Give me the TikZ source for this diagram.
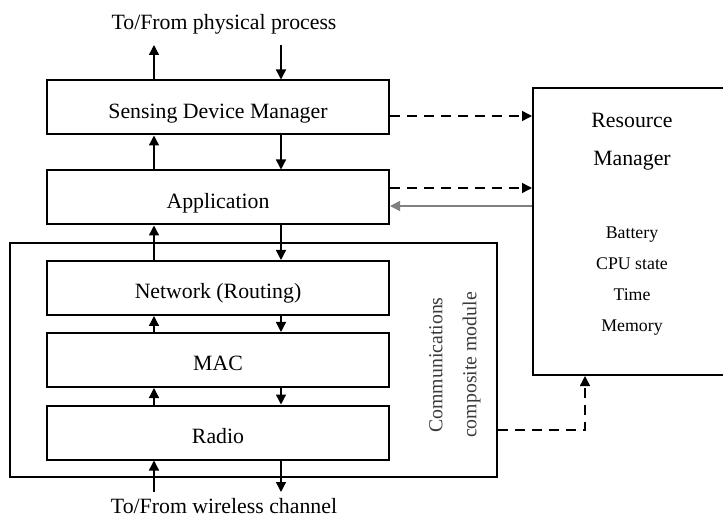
\documentclass[tikz,border=0pt]{standalone}
\usepackage{fontspec}
\setmainfont{Liberation Serif}
\usepackage{xcolor}
\definecolor{LabelGray}{HTML}{3A3A3A}
\definecolor{FeedGray}{HTML}{808080}
\usetikzlibrary{arrows.meta}
\newcommand{\layerw}{171pt}
\newcommand{\layerh}{27pt}
\newcommand{\colup}{-32pt}
\newcommand{\coldown}{31.5pt}
\newcommand{\mainsize}{\fontsize{10.9}{13}\selectfont}
\newcommand{\smallsize}{\fontsize{8.9}{11}\selectfont}

\begin{document}
\begin{tikzpicture}[x=0.5pt,y=-0.5pt,font=\mainsize,
    layer/.style={draw,line width=1pt,minimum width=\layerw,minimum height=\layerh,
      inner sep=0pt,text height=10.6pt,text depth=0pt},
    flow/.style={line width=0.7pt,-{Triangle[length=5pt,width=5pt]}},
    ctrl/.style={flow,dash pattern=on 5pt off 3.5pt},
    feed/.style={flow,color=FeedGray}]
    \useasboundingbox (0,0) rectangle (723,518);
    % protocol layers
    \node[layer] (sdm) at (218,107.5) {Sensing Device Manager};
    \node[layer] (app) at (218,197.5) {Application};
    \node[layer] (net) at (218,288) {Network (Routing)};
    \node[layer] (mac) at (218,360) {MAC};
    \node[layer] (radio) at (218,432.5) {Radio};
    % communications module
    \node[draw,line width=1pt,minimum width=243.5pt,minimum height=117pt] (comm) at (253.5,360) {};
    \node[rotate=90,align=center,text=LabelGray,font=\fontsize{9.9}{12}\selectfont] (commlbl) at (455,365)
      {Communications\\[5pt]composite module};
    % resource manager
    \node[draw,line width=1pt,minimum width=99pt,minimum height=143.5pt] (rm) at (632,231.5) {};
    \node[align=center] (rmtitle) at (632,142) {Resource\\[6pt]Manager};
    \node[align=center,font=\smallsize] (rmlist) at (632,281)
      {Battery\\[4.5pt]CPU state\\[4.5pt]Time\\[4.5pt]Memory};
    % outside world
    \node (phys) at (224,24) {To/From physical process};
    \node (wless) at (224,506) {To/From wireless channel};
    \coordinate (physup) at (154,45);
    \coordinate (physdown) at (281,45);
    \coordinate (wlessup) at (154,492);
    \coordinate (wlessdown) at (281,492);
    % data flow
    \draw[flow] ([xshift=\colup]sdm.north) -- (physup);
    \draw[flow] (physdown) -- ([xshift=\coldown]sdm.north);
    \draw[flow] ([xshift=\colup]app.north) -- ([xshift=\colup]sdm.south);
    \draw[flow] ([xshift=\coldown]sdm.south) -- ([xshift=\coldown]app.north);
    \draw[flow] ([xshift=\colup]net.north) -- ([xshift=\colup]app.south);
    \draw[flow] ([xshift=\coldown]app.south) -- ([xshift=\coldown]net.north);
    \draw[flow] ([xshift=\colup]mac.north) -- ([xshift=\colup]net.south);
    \draw[flow] ([xshift=\coldown]net.south) -- ([xshift=\coldown]mac.north);
    \draw[flow] ([xshift=\colup]radio.north) -- ([xshift=\colup]mac.south);
    \draw[flow] ([xshift=\coldown]mac.south) -- ([xshift=\coldown]radio.north);
    \draw[flow] (wlessup) -- ([xshift=\colup]radio.south);
    \draw[flow] ([xshift=\coldown]radio.south) -- (wlessdown);
    % control flow
    \draw[ctrl] ([yshift=-4.25pt]sdm.east) -- ([yshift=-4.25pt]sdm.east -| rm.west);
    \draw[ctrl] ([yshift=4.75pt]app.east) -- ([yshift=4.75pt]app.east -| rm.west);
    \draw[feed] ([yshift=-4.25pt]app.east -| rm.west) -- ([yshift=-4.25pt]app.east);
    \draw[ctrl] ([yshift=-35pt]comm.east) -| ([xshift=-23.5pt]rm.south);
\end{tikzpicture}
\end{document}
